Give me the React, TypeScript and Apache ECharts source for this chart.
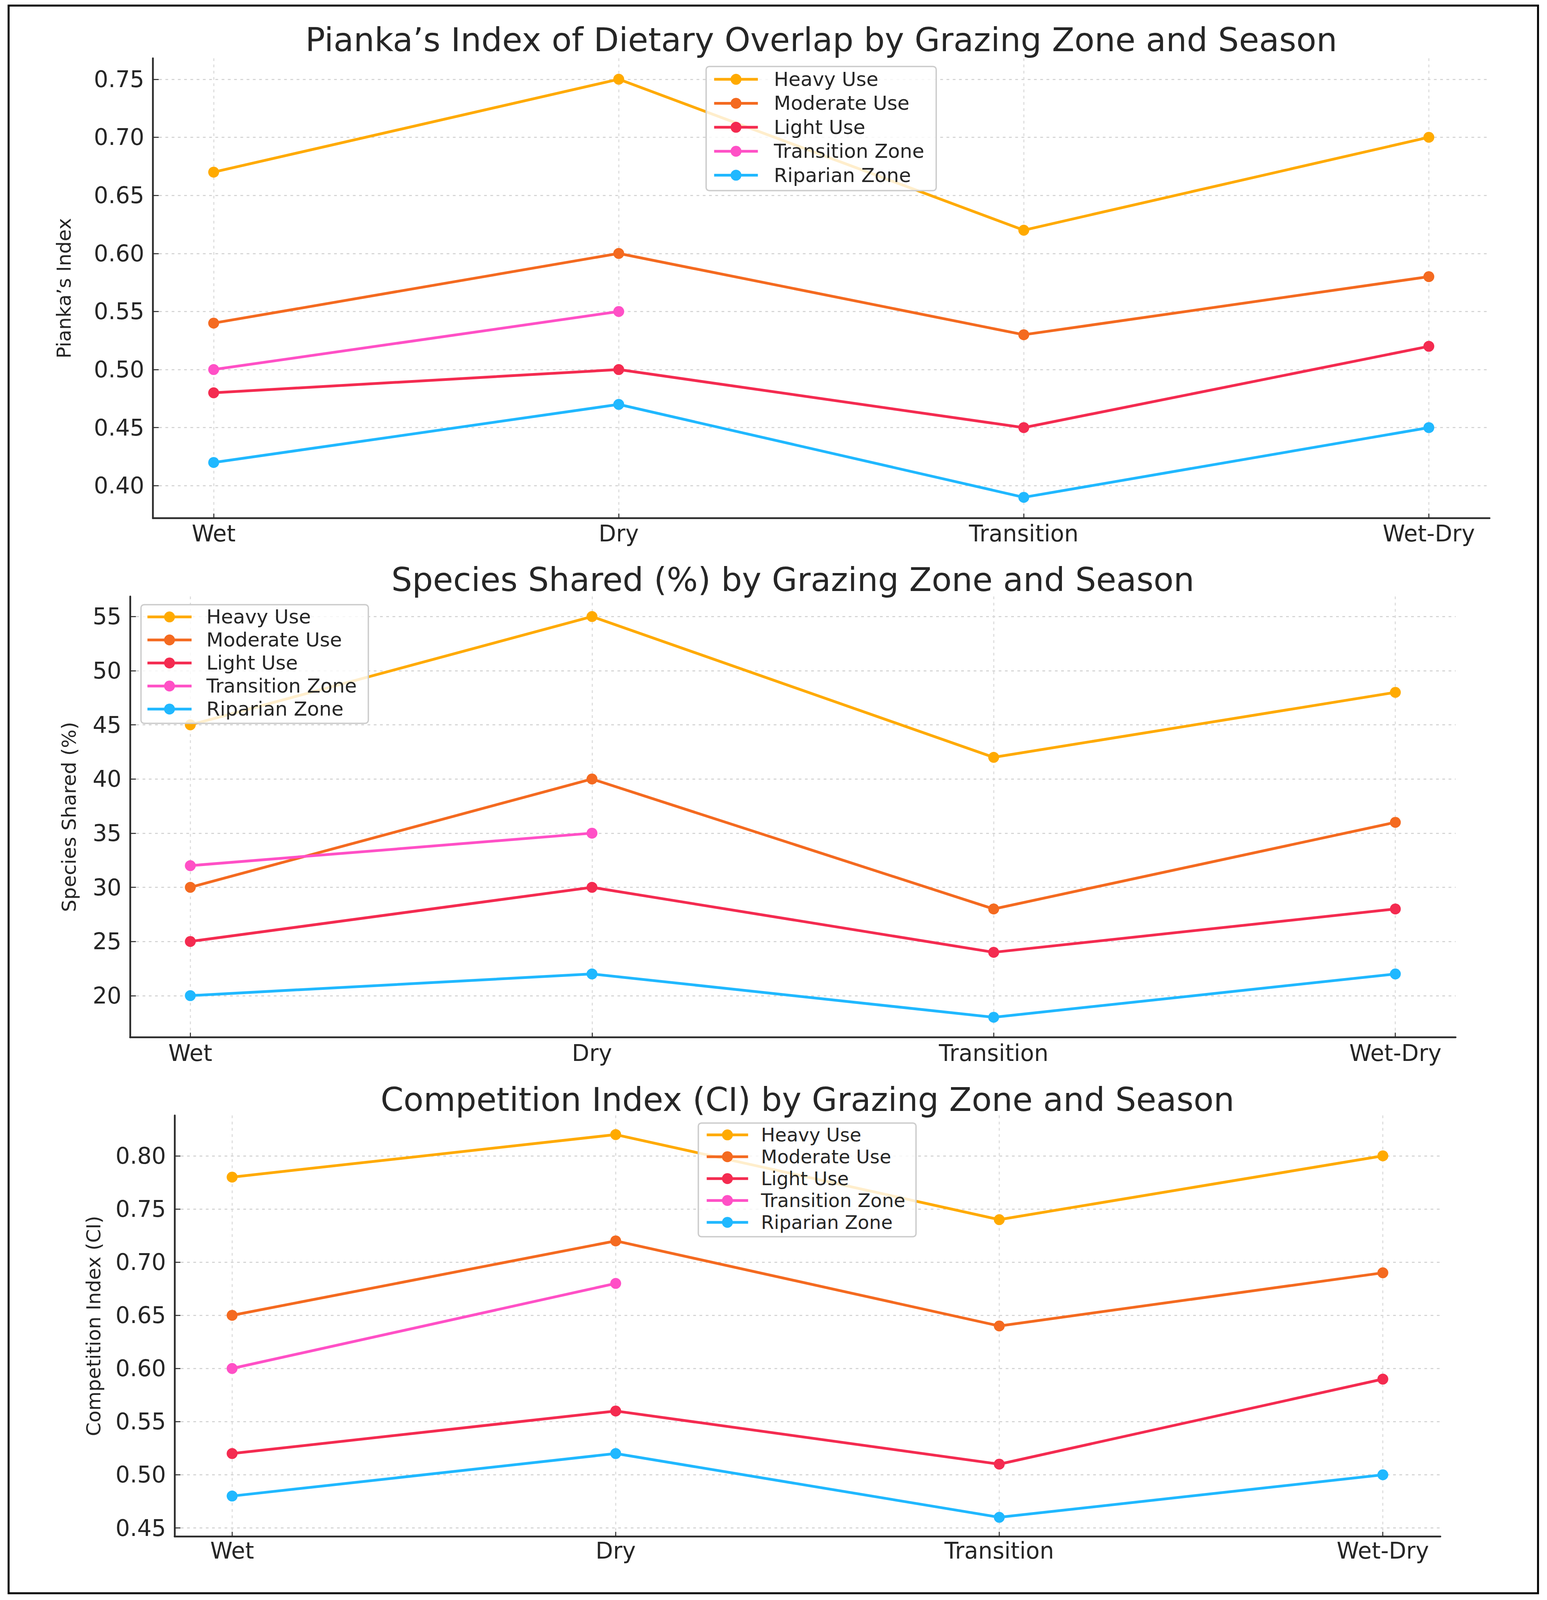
import React, { useEffect, useRef } from "react";
import * as echarts from "echarts";

const seasons = ["Wet", "Dry", "Transition", "Wet-Dry"];
const zones = ["Heavy Use", "Moderate Use", "Light Use", "Transition Zone", "Riparian Zone"];
const zoneColors = ["#FFAA00", "#F46A20", "#F42B50", "#FF50C6", "#20B8FF"];

const piankaHeavy = [0.67, 0.75, 0.62, 0.7];
const piankaModerate = [0.54, 0.6, 0.53, 0.58];
const piankaLight = [0.48, 0.5, 0.45, 0.52];
const piankaTransition = [0.5, 0.55];
const piankaRiparian = [0.42, 0.47, 0.39, 0.45];
const piankaTicks = [0.4, 0.45, 0.5, 0.55, 0.6, 0.65, 0.7, 0.75];

const sharedHeavy = [45, 55, 42, 48];
const sharedModerate = [30, 40, 28, 36];
const sharedLight = [25, 30, 24, 28];
const sharedTransition = [32, 35];
const sharedRiparian = [20, 22, 18, 22];
const sharedTicks = [20, 25, 30, 35, 40, 45, 50, 55];

const ciHeavy = [0.78, 0.82, 0.74, 0.8];
const ciModerate = [0.65, 0.72, 0.64, 0.69];
const ciLight = [0.52, 0.56, 0.51, 0.59];
const ciTransition = [0.6, 0.68];
const ciRiparian = [0.48, 0.52, 0.46, 0.5];
const ciTicks = [0.45, 0.5, 0.55, 0.6, 0.65, 0.7, 0.75, 0.8];

const seasonIdx = [0, 1, 2, 3];

// layout is measured on the 3961 x 5488 reference and scaled to the viewport
const REF_W = 3961;
const REF_H = 5488;

const panels = [
  {
    title: "Pianka\u2019s Index of Dietary Overlap by Grazing Zone and Season",
    yName: "Pianka\u2019s Index",
    series: [piankaHeavy, piankaModerate, piankaLight, piankaTransition, piankaRiparian],
    ticks: piankaTicks,
    decimals: 2,
    yMin: 0.372,
    yMax: 0.768,
    grid: { left: 391.5, right: 3814, top: 200, bottom: 1777.5 },
    titleY: 136,
    nameX: 164,
    labelMargin: 14,
    legend: { boxLeft: 1808, boxTop: 228, boxRight: 2401, boxBottom: 654, firstY: 272, pitch: 82.25, iconL: 1825, iconR: 1937, textX: 1978, font: 50 },
  },
  {
    title: "Species Shared (%) by Grazing Zone and Season",
    yName: "Species Shared (%)",
    series: [sharedHeavy, sharedModerate, sharedLight, sharedTransition, sharedRiparian],
    ticks: sharedTicks,
    decimals: 0,
    yMin: 16.15,
    yMax: 56.85,
    grid: { left: 333, right: 3727, top: 2046, bottom: 3558 },
    titleY: 1988,
    nameX: 177,
    labelMargin: 16,
    legend: { boxLeft: 361, boxTop: 2074, boxRight: 947, boxBottom: 2481, firstY: 2116, pitch: 79, iconL: 374, iconR: 487, textX: 525, font: 50 },
  },
  {
    title: "Competition Index (CI) by Grazing Zone and Season",
    yName: "Competition Index (CI)",
    series: [ciHeavy, ciModerate, ciLight, ciTransition, ciRiparian],
    ticks: ciTicks,
    decimals: 2,
    yMin: 0.442,
    yMax: 0.838,
    grid: { left: 447, right: 3688, top: 3826, bottom: 5270 },
    titleY: 3771,
    nameX: 240,
    labelMargin: 10,
    legend: { boxLeft: 1788, boxTop: 3852, boxRight: 2349, boxBottom: 4242, firstY: 3892.6, pitch: 75, iconL: 1806, iconR: 1912, textX: 1945, font: 48 },
  },
];

const FONT = "DejaVu Sans";
const TEXT = "#262626";
const AXIS = "#2a2a2a";
const TITLE_FONT = 84;
const TICK_FONT = 58;
const NAME_FONT = 50;

function buildOption(W: number, H: number) {
  const sx = W / REF_W;
  const sy = H / REF_H;
  const X = (v: number) => v * sx;
  const Y = (v: number) => v * sy;
  const F = (v: number) => v * sx;

  const grids: any[] = [];
  const xAxes: any[] = [];
  const yAxes: any[] = [];
  const series: any[] = [];
  const titles: any[] = [];
  const legends: any[] = [];

  panels.forEach((p, pi) => {
    const g = p.grid;
    grids.push({
      left: X(g.left),
      width: X(g.right - g.left),
      top: Y(g.top),
      height: Y(g.bottom - g.top),
      containLabel: false,
    });
    const titleLH = F(TITLE_FONT) * 1.1;
    titles.push({
      text: p.title,
      left: X((g.left + g.right) / 2),
      textAlign: "center",
      top: Y(p.titleY) - titleLH / 2,
      padding: 0,
      textStyle: { fontFamily: FONT, fontSize: F(TITLE_FONT), fontWeight: "normal", color: TEXT, lineHeight: titleLH },
    });
    xAxes.push({
      type: "value",
      gridIndex: pi,
      min: -0.15,
      max: 3.15,
      axisLine: { show: true, onZero: false, lineStyle: { color: AXIS, width: 4.5 } },
      axisTick: { show: true, inside: true, length: Y(16), customValues: seasonIdx, lineStyle: { color: AXIS, width: 2.5 } },
      axisLabel: {
        show: true,
        customValues: seasonIdx,
        margin: Y(p.labelMargin),
        fontFamily: FONT,
        fontSize: F(TICK_FONT),
        color: TEXT,
        formatter: (v: number) => seasons[Math.round(v)] ?? "",
      },
      splitLine: { show: true, lineStyle: { color: "#d9d9d9", width: 2.5, type: [7, 9] } },
    });
    yAxes.push({
      type: "value",
      gridIndex: pi,
      min: p.yMin,
      max: p.yMax,
      name: p.yName,
      nameLocation: "middle",
      nameGap: X(g.left - p.nameX) - F(NAME_FONT) / 2,
      nameTextStyle: { fontFamily: FONT, fontSize: F(NAME_FONT), color: TEXT },
      axisLine: { show: true, onZero: false, lineStyle: { color: AXIS, width: 4.5 } },
      axisTick: { show: true, inside: true, length: X(15), customValues: p.ticks, lineStyle: { color: AXIS, width: 2.5 } },
      axisLabel: {
        show: true,
        customValues: p.ticks,
        margin: X(22),
        fontFamily: FONT,
        fontSize: F(TICK_FONT),
        color: TEXT,
        formatter: (v: number) => v.toFixed(p.decimals),
      },
      splitLine: { show: true, lineStyle: { color: "#cfcfcf", width: 2.5, type: [7, 9] } },
    });
    p.series.forEach((vals, si) => {
      series.push({
        type: "line",
        name: zones[si],
        xAxisIndex: pi,
        yAxisIndex: pi,
        data: vals.map((v, i) => [seasonIdx[i], v]),
        symbol: "circle",
        symbolSize: 28,
        showSymbol: true,
        color: zoneColors[si],
        lineStyle: { width: 7, color: zoneColors[si] },
        itemStyle: { color: zoneColors[si] },
        z: 3,
      });
    });
    const L = p.legend;
    const LH = F(L.font);
    const textW = 7.848 * F(L.font);
    const padTop = Y(L.firstY - L.boxTop) - LH / 2;
    const padBottom = Y(L.boxBottom - (L.firstY + 4 * L.pitch)) - LH / 2;
    const padLeft = X(L.iconL - L.boxLeft);
    const padRight = Math.max(4, X(L.boxRight) - (X(L.textX) + textW));
    legends.push({
      orient: "vertical",
      left: X(L.boxLeft),
      top: Y(L.boxTop),
      padding: [padTop, padRight, padBottom, padLeft],
      itemGap: Y(L.pitch) - LH,
      itemWidth: X(L.iconR - L.iconL),
      itemHeight: 35,
      data: zones,
      backgroundColor: "rgba(255,255,255,0.8)",
      borderColor: "#cccccc",
      borderWidth: 3.5,
      borderRadius: 8,
      z: 10,
      selectedMode: false,
      lineStyle: { width: 7 },
      textStyle: {
        fontFamily: FONT,
        fontSize: F(L.font),
        lineHeight: LH,
        color: TEXT,
        padding: [0, 0, 0, X(L.textX - L.iconR) - 5],
      },
    });
  });

  return {
    animation: false,
    backgroundColor: "#ffffff",
    title: titles,
    grid: grids,
    xAxis: xAxes,
    yAxis: yAxes,
    legend: legends,
    series,
    graphic: [
      {
        type: "rect",
        shape: { x: X(22), y: Y(19), width: X(3916), height: Y(5446) },
        style: { fill: "none", stroke: "#000000", lineWidth: 5 },
        silent: true,
      },
    ],
  };
}

export default function App() {
  const ref = useRef<HTMLDivElement>(null);
  const W = window.innerWidth || REF_W;
  const H = window.innerHeight || REF_H;
  useEffect(() => {
    if (!ref.current) return;
    const chart = echarts.init(ref.current, null, { renderer: "svg" });
    chart.setOption(buildOption(W, H) as any);
    return () => chart.dispose();
  }, []);
  return (
    <div
      ref={ref}
      style={{ position: "absolute", left: 0, top: 0, width: W, height: H, background: "#fff" }}
    />
  );
}
